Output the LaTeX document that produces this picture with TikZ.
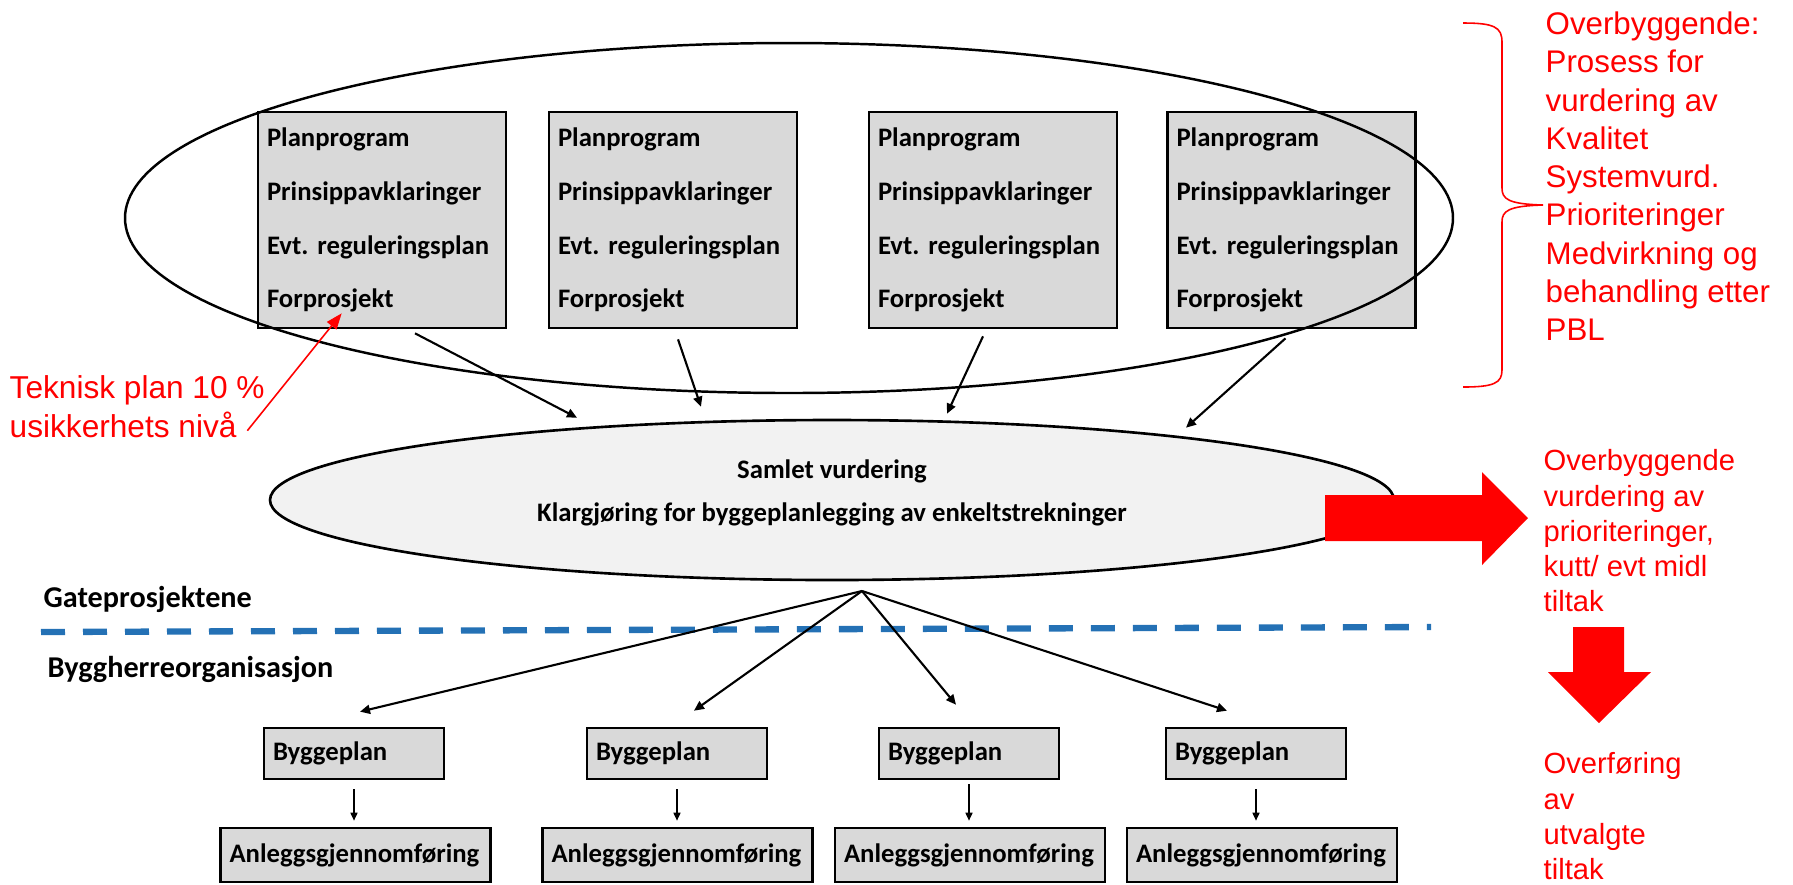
\documentclass[tikz,border=0pt]{standalone}
\usepackage{fontspec}
\setmainfont{Carlito}
\newfontfamily\arialfont{Liberation Sans}
\usetikzlibrary{shapes.geometric,arrows.meta,calc}

\definecolor{boxgray}{RGB}{217,217,217}
\definecolor{ovalgray}{RGB}{242,242,242}
\definecolor{gateblue}{RGB}{36,113,181}

\begin{document}
\frenchspacing
\begin{tikzpicture}[x=0.1mm, y=-0.1mm,
    every node/.style={inner sep=0pt},
    planbox/.style={draw, line width=0.75pt, fill=boxgray, align=left, inner xsep=0.9mm,
        text width=23mm, minimum height=21.6mm, font=\fontsize{7.6pt}{15.3pt}\selectfont\bfseries},
    byggbox/.style={draw, line width=0.75pt, fill=boxgray, align=left, inner xsep=0.9mm,
        text width=16.2mm, minimum height=5.1mm, font=\fontsize{7.6pt}{9pt}\selectfont\bfseries},
    anleggbox/.style={byggbox, text width=25.2mm, minimum height=5.4mm},
    redtext/.style={text=red, align=left, anchor=north west, font=\arialfont\fontsize{8.3pt}{10pt}\selectfont},
    arr/.style={-{Triangle[length=1mm,width=0.9mm]}, line width=0.6pt},
    smallarr/.style={-{Triangle[length=0.8mm,width=0.7mm]}, line width=0.45pt}]
    \useasboundingbox (0,0) rectangle (1793,884);

    \node[planbox] (b1) at (382,220) {Planprogram\\Prinsippavklaringer\\Evt. reguleringsplan\\Forprosjekt};
    \node[planbox] (b2) at (673,220) {Planprogram\\Prinsippavklaringer\\Evt. reguleringsplan\\Forprosjekt};
    \node[planbox] (b3) at (993,220) {Planprogram\\Prinsippavklaringer\\Evt. reguleringsplan\\Forprosjekt};
    \node[planbox] (b4) at (1291.5,220) {Planprogram\\Prinsippavklaringer\\Evt. reguleringsplan\\Forprosjekt};
    \node[draw, ellipse, line width=0.7pt, minimum width=132.8mm, minimum height=35mm] (omr) at (789,218) {};

    \node[draw, ellipse, fill=ovalgray, line width=0.75pt, minimum width=112.4mm, minimum height=16mm,
        align=center, font=\fontsize{7.6pt}{12.4pt}\selectfont\bfseries] (samlet) at (832,500)
        {Samlet vurdering\\Klargjøring for byggeplanlegging av enkeltstrekninger\rule[-1.9mm]{0pt}{1mm}};
    \draw[arr] ($(b1.south)+(33,4)$) -- ($(samlet.north)+(-255,-1)$);
    \draw[arr] ($(b2.south)+(5,10)$) -- ($(samlet.north)+(-131,-12)$);
    \draw[arr] ($(b3.south)+(-10,7)$) -- ($(samlet.north)+(115,-5)$);
    \draw[arr] ($(b4.south)+(-6,9)$) -- ($(samlet.north)+(354,9)$);

    \node[text=red, align=left, anchor=north west, font=\arialfont\fontsize{9pt}{11.1pt}\selectfont] (tek) at (9,375)
        {Teknisk plan 10 \%\\usikkerhets nivå};
    \draw[red, line width=0.45pt, -{Triangle[length=1.6mm,width=1.2mm]}] ($(tek.south east)+(-18,-8)$) -- ($(b1.south west)+(85,-16)$);

    \coordinate (brtop) at (1463,23);
    \coordinate (brtip) at (1543,205);
    \coordinate (brbot) at (1463,387);
    \draw[red, line width=0.45pt] (brtop) .. controls (1494,23) and (1502,27) .. (1502,42) -- (1502,188)
        .. controls (1502,199) and (1508,204) .. (brtip)
        .. controls (1508,206) and (1502,211) .. (1502,222) -- (1502,370)
        .. controls (1502,383) and (1494,387) .. (brbot);
    \node[redtext, font=\arialfont\fontsize{8.9pt}{10.9pt}\selectfont] (proc) at (1545,11)
        {Overbyggende:\\Prosess for\\vurdering av\\Kvalitet\\Systemvurd.\\Prioriteringer\\Medvirkning og\\behandling etter\\PBL};

    \fill[red] (1325,495) -- (1482,495) -- (1482,472) -- (1528,518) -- (1482,565) -- (1482,541) -- (1325,541) -- cycle;
    \node[redtext] (prio) at (1543,449) {Overbyggende\\vurdering av\\prioriteringer,\\kutt/ evt midl\\tiltak};
    \fill[red] (1573,627) -- (1624,627) -- (1624,672) -- (1651,672) -- (1599,723) -- (1548,672) -- (1573,672) -- cycle;
    \node[redtext] (overf) at (1543,752) {Overføring\\av\\utvalgte\\tiltak};

    \draw[gateblue, line width=1.8pt, dash pattern=on 2.4mm off 1.8mm] (41,632) -- (1431,627);
    \node[anchor=base west, font=\fontsize{8.6pt}{10pt}\selectfont\bfseries] (gate) at (43,607) {Gateprosjektene};
    \node[anchor=base west, font=\fontsize{8.6pt}{10pt}\selectfont\bfseries] (bho) at (47,677) {Byggherreorganisasjon};

    \node[byggbox] (bp1) at (354,753.5) {Byggeplan};
    \node[byggbox] (bp2) at (677,753.5) {Byggeplan};
    \node[byggbox] (bp3) at (969,753.5) {Byggeplan};
    \node[byggbox] (bp4) at (1256,753.5) {Byggeplan};
    \node[anleggbox] (ag1) at (355.5,855) {Anleggsgjennomføring};
    \node[anleggbox] (ag2) at (677.5,855) {Anleggsgjennomføring};
    \node[anleggbox] (ag3) at (970,855) {Anleggsgjennomføring};
    \node[anleggbox] (ag4) at (1262,855) {Anleggsgjennomføring};

    \coordinate (hub) at (862,591);
    \draw[arr] (hub) -- ($(bp1.north)+(6,-15)$);
    \draw[arr] (hub) -- ($(bp2.north)+(17,-16)$);
    \draw[arr] (hub) -- ($(bp3.north)+(-13,-22)$);
    \draw[arr] (hub) -- ($(bp4.north)+(-29,-16)$);
    \draw[smallarr] ($(bp1.south)+(0,9)$) -- ($(bp1.south|-ag1.north)+(0,-6)$);
    \draw[smallarr] ($(bp2.south)+(0,9)$) -- ($(bp2.south|-ag2.north)+(0,-6)$);
    \draw[smallarr] ($(bp3.south)+(0,4)$) -- ($(bp3.south|-ag3.north)+(0,-6)$);
    \draw[smallarr] ($(bp4.south)+(0,9)$) -- ($(bp4.south|-ag4.north)+(0,-6)$);
\end{tikzpicture}
\end{document}
